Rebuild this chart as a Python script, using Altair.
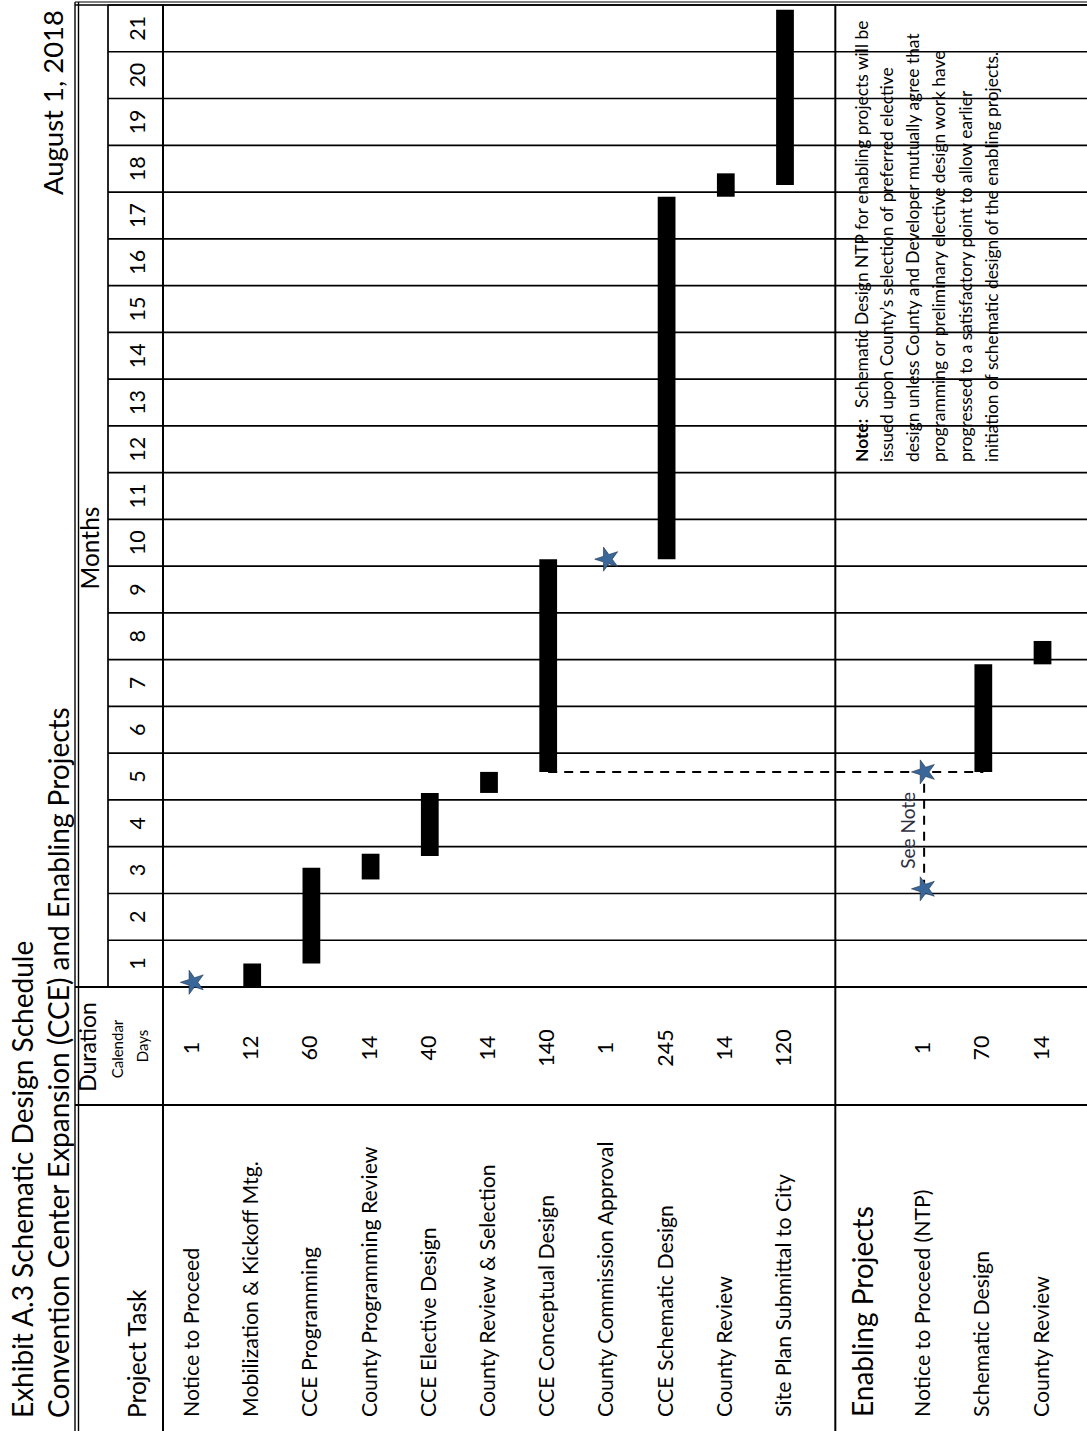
import altair as alt
import pandas as pd

# ---------------- data ----------------
title_lines = ["Exhibit A.3 Schematic Design Schedule",
               "Convention Center Expansion (CCE) and Enabling Projects"]
date_text = "August 1, 2018"
months_header = "Months"
month_numbers = list(range(1, 22))

tasks = ["Notice to Proceed", "Mobilization & Kickoff Mtg.", "CCE Programming",
         "County Programming Review", "CCE Elective Design", "County Review & Selection",
         "CCE Conceptual Design", "County Commission Approval", "CCE Schematic Design",
         "County Review", "Site Plan Submittal to City"]
durations = [1, 12, 60, 14, 40, 14, 140, 1, 245, 14, 120]
starts = [0.1, 0.0, 0.5, 2.3, 2.8, 4.15, 4.6, 9.15, 9.15, 16.9, 17.15]
ends = [0.1, 0.5, 2.55, 2.85, 4.15, 4.6, 9.15, 9.15, 16.9, 17.4, 20.9]
kinds = ["milestone", "bar", "bar", "bar", "bar", "bar", "bar", "milestone", "bar", "bar", "bar"]

enabling_header = "Enabling Projects"
enabling_tasks = ["Notice to Proceed (NTP)", "Schematic Design", "County Review"]
enabling_durations = [1, 70, 14]
enabling_starts = [2.1, 4.6, 6.9]
enabling_ends = [4.6, 6.9, 7.4]
enabling_kinds = ["milestone", "bar", "bar"]

note_bold = "Note:"
note_first = "Schematic Design NTP for enabling projects will be"
note_rest = ["issued upon County\u2019s selection of preferred elective",
             "design unless County and Developer mutually agree that",
             "programming or preliminary elective design work have",
             "progressed to a satisfactory point to allow earlier",
             "initiation of schematic design of the enabling projects."]
see_note = "See Note"
header_task = "Project Task"
header_duration = "Duration"
header_calendar = "Calendar"
header_days = "Days"

# ---------------- tables built from the lists ----------------
n_main = len(tasks)
gap = 0.35
rows = []
for i, t in enumerate(tasks):
    rows.append(dict(task=t, dur=durations[i], start=starts[i], end=ends[i],
                     kind=kinds[i], slot=i + 1))
for j, t in enumerate(enabling_tasks):
    rows.append(dict(task=t, dur=enabling_durations[j], start=enabling_starts[j],
                     end=enabling_ends[j], kind=enabling_kinds[j],
                     slot=n_main + 1 + gap + j + 1))
df = pd.DataFrame(rows)

mil = df[df.kind == "milestone"]
stars = pd.concat([mil[["task", "slot", "start"]].rename(columns={"start": "t"}),
                   mil[["task", "slot", "end"]].rename(columns={"end": "t"})]).drop_duplicates()

# dependency: enabling schematic design starts when CCE conceptual design starts
concept = df[df.task == "CCE Conceptual Design"].iloc[0]
en_sd = df[(df.task == "Schematic Design")].iloc[0]
ntp = df[df.task == "Notice to Proceed (NTP)"].iloc[0]
link_h = pd.DataFrame([dict(x1=concept.slot, x2=en_sd.slot, t=en_sd.start)])
link_v = pd.DataFrame([dict(x=ntp.slot, t1=ntp.start, t2=ntp.end)])
see_df = pd.DataFrame([dict(x=ntp.slot, t=(ntp.start + ntp.end) / 2, label=see_note)])

months_df = pd.DataFrame({"m": month_numbers})
bounds_df = pd.DataFrame({"b": list(range(1, 22))})
head_df = pd.DataFrame([dict(slot=n_main + 1 + gap, label=enabling_header)])
sep_df = pd.DataFrame([dict(slot=n_main + 0.85)])
one = pd.DataFrame({"k": [0]})

# ---------------- scales ----------------
X = alt.Scale(domain=[1, 11], range=[193, 785], nice=False, zero=False)
Y = alt.Scale(domain=[0, 21], range=[987, 5], nice=False, zero=False)
F = "Lato"
W, H = 1087, 1431
LW = 1.7


def xq(field):
    return alt.X(field, type="quantitative", scale=X, axis=None)


def yq(field):
    return alt.Y(field, type="quantitative", scale=Y, axis=None)


def vrule(x, y1, y2, w=LW):
    return alt.Chart(one).mark_rule(color="black", strokeWidth=w).encode(
        x=alt.value(x), y=alt.value(y1), y2=alt.value(y2))


def hrule_px(y, x1, x2, w=LW):
    return alt.Chart(one).mark_rule(color="black", strokeWidth=w).encode(
        y=alt.value(y), x=alt.value(x1), x2=alt.value(x2))


def label(txt, x, y, size, align="left", weight="normal"):
    return alt.Chart(one).mark_text(text=txt, angle=270, align=align, baseline="middle",
                                    fontSize=size, font=F, fontWeight=weight,
                                    color="black").encode(x=alt.value(x), y=alt.value(y))


layers = []

# month boundary lines
layers.append(alt.Chart(bounds_df).mark_rule(color="black", strokeWidth=LW).encode(
    y=yq("b"), x=alt.value(108), x2=alt.value(W)))
layers.append(alt.Chart(pd.DataFrame({"b": [0]})).mark_rule(color="black", strokeWidth=2).encode(
    y=yq("b"), x=alt.value(75), x2=alt.value(W)))
# top double border
layers.append(hrule_px(2, 75, W, 1.2))
layers.append(hrule_px(5, 75, W, 1.6))
# header / body separator
layers.append(hrule_px(1105, 75, W, 2))
# vertical borders
layers.append(vrule(75, 2, H, 1.4))
layers.append(vrule(78.5, 2, H, 1.4))
layers.append(vrule(108, 5, 987))
layers.append(vrule(163, 5, H, 2))
layers.append(alt.Chart(sep_df).mark_rule(color="black", strokeWidth=2).encode(
    x=xq("slot"), y=alt.value(5), y2=alt.value(H)))

# dashed dependency links
layers.append(alt.Chart(link_h).mark_rule(color="black", strokeWidth=2, strokeDash=[9, 7]).encode(
    x=xq("x1"), x2=alt.X2("x2"), y=yq("t")))
layers.append(alt.Chart(link_v).mark_rule(color="black", strokeWidth=2, strokeDash=[9, 7]).encode(
    x=xq("x"), y=yq("t1"), y2=alt.Y2("t2")))

# bars
layers.append(alt.Chart(df).transform_filter(alt.datum.kind == "bar").transform_calculate(
    xa="datum.slot - 0.15", xb="datum.slot + 0.15").mark_rect(color="black").encode(
    x=xq("xa"), x2=alt.X2("xb"), y=yq("start"), y2=alt.Y2("end")))

# milestone stars
star_path = ("M -1 0 L -0.31 -0.225 L -0.309 -0.951 L 0.118 -0.364 L 0.809 -0.588 "
             "L 0.383 0 L 0.809 0.588 L 0.118 0.364 L -0.309 0.951 L -0.31 0.225 Z")
layers.append(alt.Chart(stars).mark_point(shape=star_path, filled=True, size=640,
                                          color="#3a679a", stroke="#1c2f4a", strokeWidth=0.6,
                                          opacity=1).encode(x=xq("slot"), y=yq("t")))

# see note label
layers.append(alt.Chart(see_df).transform_calculate(xs="datum.x - 0.26").mark_text(
    angle=270, align="center", baseline="middle", fontSize=19, font=F, color="#2f2f3f").encode(
    x=xq("xs"), y=yq("t"), text="label:N"))

# month labels
layers.append(alt.Chart(months_df).transform_calculate(mid="datum.m - 0.5").mark_text(
    angle=270, align="center", baseline="middle", fontSize=21.5, font=F, color="black").encode(
    x=alt.value(139), y=yq("mid"), text="m:N"))

# task labels and durations
layers.append(alt.Chart(df).mark_text(angle=270, align="left", baseline="middle", fontSize=21.3,
                                      font=F, color="black").encode(
    x=xq("slot"), y=alt.value(1417), text="task:N"))
layers.append(alt.Chart(df).mark_text(angle=270, align="center", baseline="middle", fontSize=21.5,
                                      font=F, color="black").encode(
    x=xq("slot"), y=alt.value(1048), text="dur:N"))
layers.append(alt.Chart(head_df).mark_text(angle=270, align="left", baseline="middle", fontSize=28,
                                           font=F, color="black").encode(
    x=xq("slot"), y=alt.value(1417), text="label:N"))

# headers and titles
layers.append(label(title_lines[0], 25, 1418, 28))
layers.append(label(title_lines[1], 61, 1418, 28))
layers.append(label(date_text, 55, 10, 27.5, align="right"))
layers.append(label(months_header, 92, 548, 24.5, align="center"))
layers.append(label(header_task, 139, 1418, 24.5))
layers.append(label(header_duration, 89, 1047, 23, align="center"))
layers.append(label(header_calendar, 118, 1049, 15, align="center"))
layers.append(label(header_days, 143, 1046, 15, align="center"))

# note
NS = 17.4
layers.append(label(note_bold, 863, 462, NS, weight="bold"))
layers.append(label(note_first, 863, 408, NS))
layers.append(alt.Chart(one).mark_text(text=note_rest, angle=270, align="left", baseline="top",
                                       fontSize=NS, font=F, lineHeight=26.2,
                                       color="black").encode(x=alt.value(879), y=alt.value(462)))

chart = alt.layer(*layers).properties(
    width=W, height=H, padding=0, autosize=alt.AutoSizeParams(type="none"),
    background="white"
).configure_view(stroke=None)

chart.save("out.html", embed_options={"renderer": "svg", "actions": False})
